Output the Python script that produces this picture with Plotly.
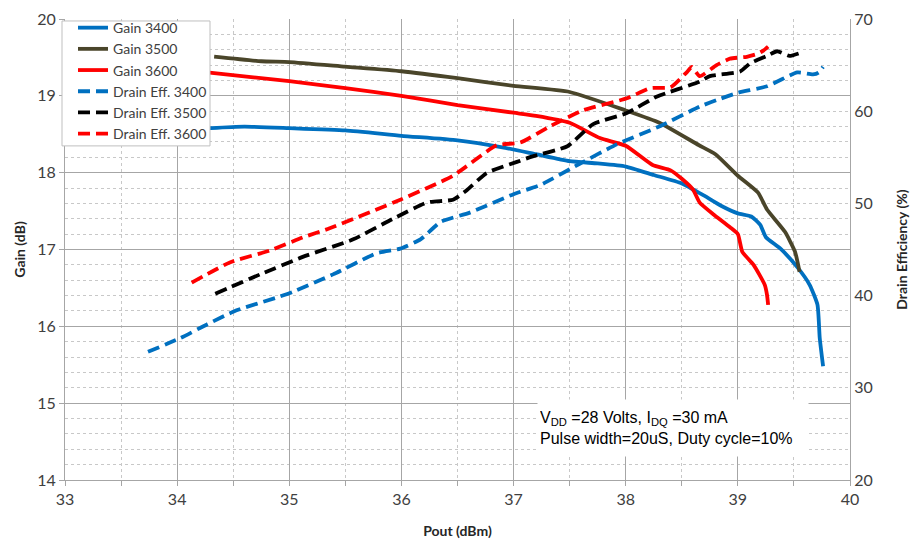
import plotly.graph_objects as go

# ---- data ----
gain3400_p = [33.74, 34.3, 34.6, 35.0, 35.5, 36.0, 36.5, 36.9, 37.2, 37.5, 37.75, 38.0, 38.25, 38.5,
              38.7, 38.85, 39.0, 39.12, 39.2, 39.25, 39.38, 39.53, 39.64, 39.71, 39.73, 39.76]
gain3400_g = [18.52, 18.58, 18.6, 18.58, 18.55, 18.48, 18.42, 18.33, 18.24, 18.15, 18.12, 18.08, 17.97, 17.86,
              17.7, 17.57, 17.47, 17.43, 17.32, 17.16, 17.01, 16.77, 16.54, 16.28, 15.85, 15.48]

gain3500_p = [34.33, 34.75, 35.0, 35.5, 36.0, 36.5, 37.0, 37.5, 38.0, 38.3, 38.65, 38.8, 39.0, 39.18,
              39.26, 39.42, 39.51, 39.55]
gain3500_g = [19.51, 19.45, 19.44, 19.38, 19.32, 19.23, 19.13, 19.05, 18.81, 18.65, 18.36, 18.24, 17.96, 17.74,
              17.52, 17.23, 16.97, 16.71]

gain3600_p = [34.13, 34.31, 35.0, 35.5, 36.0, 36.5, 37.0, 37.2, 37.5, 37.77, 38.0, 38.24, 38.4, 38.5,
              38.6, 38.66, 38.78, 38.93, 39.0, 39.04, 39.14, 39.24, 39.26, 39.27]
gain3600_g = [19.33, 19.3, 19.19, 19.1, 19.0, 18.88, 18.78, 18.74, 18.65, 18.45, 18.35, 18.1, 18.03, 17.92,
              17.78, 17.61, 17.46, 17.29, 17.2, 16.97, 16.8, 16.54, 16.41, 16.28]

eff3400_p = [33.74, 34.03, 34.27, 34.53, 34.89, 35.03, 35.39, 35.78, 35.99, 36.17, 36.35, 36.61, 37.0,
             37.24, 37.59, 37.92, 38.31, 38.66, 38.81, 39.0, 39.26, 39.53, 39.67, 39.72, 39.76]
eff3400_e = [33.9, 35.4, 36.9, 38.4, 39.8, 40.4, 42.3, 44.6, 45.1, 46.1, 48.0, 49.0, 51.0,
             52.0, 54.3, 56.4, 58.4, 60.5, 61.2, 62.0, 62.7, 64.2, 64.0, 64.2, 64.8]

eff3500_p = [34.34, 34.74, 35.12, 35.57, 35.92, 36.23, 36.46, 36.58, 36.76, 37.03, 37.17, 37.48, 37.71,
             38.01, 38.28, 38.66, 38.75, 39.02, 39.11, 39.26, 39.35, 39.46, 39.55]
eff3500_e = [40.2, 42.3, 44.2, 46.1, 48.3, 50.1, 50.4, 51.4, 53.3, 54.5, 55.1, 56.2, 58.6,
             59.8, 61.6, 63.2, 63.8, 64.3, 65.2, 66.0, 66.5, 66.0, 66.3]

eff3600_p = [34.13, 34.47, 34.83, 35.12, 35.36, 35.99, 36.46, 36.85, 37.06, 37.33, 37.62, 38.01, 38.22,
             38.4, 38.55, 38.59, 38.66, 38.81, 38.93, 39.08, 39.17, 39.23, 39.27]
eff3600_e = [41.4, 43.6, 44.9, 46.3, 47.3, 50.4, 53.0, 56.3, 56.6, 58.4, 60.1, 61.4, 62.5,
             62.6, 64.3, 64.8, 63.8, 65.0, 65.7, 65.9, 66.2, 66.6, 67.0]

BLUE = "#0070c0"
OLIVE = "#4a452a"
RED = "#ff0000"
BLACK = "#000000"
DASH = "12px,6px"

fig = go.Figure()
solid = [("Gain 3400", gain3400_p, gain3400_g, BLUE),
         ("Gain 3500", gain3500_p, gain3500_g, OLIVE),
         ("Gain 3600", gain3600_p, gain3600_g, RED)]
dashed = [("Drain Eff. 3400", eff3400_p, eff3400_e, BLUE),
          ("Drain Eff. 3500", eff3500_p, eff3500_e, BLACK),
          ("Drain Eff. 3600", eff3600_p, eff3600_e, RED)]
for name, xs, ys, c in solid:
    fig.add_trace(go.Scatter(x=xs, y=ys, name=name, mode="lines",
                             line=dict(color=c, width=3.8, shape="spline", smoothing=0.5)))
for name, xs, ys, c in dashed:
    fig.add_trace(go.Scatter(x=xs, y=ys, name=name, mode="lines", yaxis="y2",
                             line=dict(color=c, width=3.8, dash=DASH, shape="spline", smoothing=0.5)))

TICKFONT = dict(family="Lato", size=16, color="#404040")
TITLEFONT = dict(family="Lato", size=14, color="#262626")
MAJOR = "#a6a6a6"
MINOR = "#c8c8c8"

fig.update_layout(
    width=910, height=543,
    margin=dict(l=65, r=60, t=15, b=63),
    paper_bgcolor="white", plot_bgcolor="white",
    showlegend=True,
    legend=dict(x=(73 - 65) / 785, y=(480 - 8) / 465, xanchor="left", yanchor="top",
                bgcolor="rgba(0,0,0,0)", borderwidth=0,
                font=dict(family="Lato", size=14, color="#404040"),
                tracegroupgap=0),
    xaxis=dict(range=[33, 40], dtick=1, tick0=33, automargin=False,
               showgrid=True, gridcolor=MAJOR, gridwidth=1,
               showline=True, linecolor=MAJOR, linewidth=1,
               ticks="outside", ticklen=5, tickcolor=MAJOR,
               minor=dict(dtick=0.5, tick0=33, showgrid=True, gridcolor=MINOR, griddash="dot",
                          ticks="outside", ticklen=5, tickcolor=MAJOR),
               tickfont=TICKFONT, zeroline=False,
               title=dict(text="<b>Pout (dBm)</b>", font=TITLEFONT, standoff=18)),
    yaxis=dict(range=[14, 20], dtick=1, tick0=14, automargin=False,
               showgrid=True, gridcolor=MAJOR, gridwidth=1,
               showline=True, linecolor=MAJOR, linewidth=1,
               ticks="outside", ticklen=5, tickcolor=MAJOR,
               minor=dict(dtick=0.2, tick0=14, showgrid=True, gridcolor=MINOR, griddash="dot"),
               tickfont=TICKFONT, zeroline=False,
               title=dict(text="<b>Gain (dB)</b>", font=TITLEFONT, standoff=8)),
    yaxis2=dict(range=[20, 70], dtick=10, tick0=20, overlaying="y", side="right", automargin=False,
                showgrid=False, showline=True, linecolor=MAJOR, linewidth=1,
                ticks="", tickfont=TICKFONT, zeroline=False,
                title=dict(text="<b>Drain Efficiency (%)</b>", font=TITLEFONT, standoff=26)),
)

# legend frame (white box that hides the curves beneath the legend)
fig.add_shape(type="rect", xref="paper", yref="paper",
              x0=(62 - 65) / 785, x1=(210 - 65) / 785,
              y0=(480 - 143) / 465, y1=(480 - 17) / 465,
              fillcolor="white", line=dict(color="#bfbfbf", width=1), layer="above")

fig.add_annotation(
    xref="paper", yref="paper", x=(537 - 65) / 785, y=(480 - 398) / 465, xanchor="left", yanchor="top",
    text="V<sub>DD</sub> =28 Volts, I<sub>DQ</sub> =30 mA<br>Pulse width=20uS, Duty cycle=10%",
    showarrow=False, align="left", bgcolor="white", width=266, height=52, borderpad=2,
    font=dict(family="Liberation Sans", size=16, color="#000000"),
)

fig.write_html("out.html")
